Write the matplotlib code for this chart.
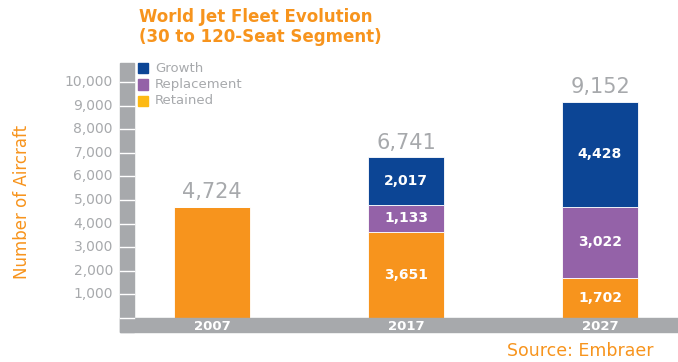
import numpy as np
import matplotlib.pyplot as plt
from matplotlib.patches import Rectangle

# Data
years = ["2007", "2017", "2027"]
retained = [4724, 3651, 1702]
replacement = [0, 1133, 3022]
growth = [0, 2017, 4428]
totals = ["4,724", "6,741", "9,152"]
yticks = [1000, 2000, 3000, 4000, 5000, 6000, 7000, 8000, 9000, 10000]

orange = "#f7941d"
purple = "#9462a8"
blue = "#0c4595"
gray = "#a7a9ac"
legend_yellow = "#fdb913"

W, H = 678, 362
fig = plt.figure(figsize=(W / 100, H / 100), dpi=100)

def fx(px):
    return px / W

def fy(py):
    return 1 - py / H

# axes area in pixels: x 134..678, y 63..318
base = 318
ax = fig.add_axes([fx(134), fy(base), fx(678) - fx(134), fy(63) - fy(base)])
px_per_unit = 194.0
xlim = (-(212 - 134) / px_per_unit, 2 + (678 - 600) / px_per_unit)
ylim = (0, (base - 63) / 23.6 * 1000)
ax.set_xlim(xlim)
ax.set_ylim(ylim)
ax.axis("off")

x = np.arange(len(years))
bw = 0.39
ax.bar(x, retained, bw, color=orange, edgecolor="white", linewidth=0.6)
ax.bar(x, replacement, bw, bottom=retained, color=purple, edgecolor="white", linewidth=0.6)
bot2 = [r + p for r, p in zip(retained, replacement)]
ax.bar(x, growth, bw, bottom=bot2, color=blue, edgecolor="white", linewidth=0.6)

# segment labels
for i in range(len(years)):
    if i == 0:
        continue
    segs = [(retained[i], 0), (replacement[i], retained[i]), (growth[i], bot2[i])]
    for val, b in segs:
        ax.text(i, b + val / 2, f"{val:,}", ha="center", va="center",
                color="white", fontsize=10, fontweight="bold")

# totals above
tops = [r + p + g for r, p, g in zip(retained, replacement, growth)]
for i, t in enumerate(totals):
    ax.text(i, tops[i] + 200, t, ha="center", va="bottom", color=gray, fontsize=15)

# gray y axis bar with white gaps
fig.patches.append(Rectangle((fx(120), fy(332)), fx(14), fy(63) - fy(332),
                             transform=fig.transFigure, color=gray, zorder=0))
# bottom bar
fig.patches.append(Rectangle((fx(120), fy(332)), fx(678 - 120), fy(base) - fy(332),
                             transform=fig.transFigure, color=gray, zorder=0))
for v in yticks:
    py = base - v / 1000 * 23.6
    fig.add_artist(plt.Line2D([fx(120), fx(134)], [fy(py), fy(py)],
                              transform=fig.transFigure, color="white", lw=1))
    fig.text(fx(113), fy(py), f"{v:,}", ha="right", va="center", color=gray, fontsize=10)
fig.add_artist(plt.Line2D([fx(120), fx(134)], [fy(base), fy(base)],
                          transform=fig.transFigure, color="white", lw=1))

# year labels inside bottom bar
for i, yr in enumerate(years):
    fig.text(fx(212 + i * px_per_unit), fy(327), yr, ha="center", va="center",
             color="white", fontsize=9.5, fontweight="bold")

# legend
legend_items = [("Growth", blue), ("Replacement", purple), ("Retained", legend_yellow)]
for k, (lab, col) in enumerate(legend_items):
    py = 63 + k * 16.5
    fig.patches.append(Rectangle((fx(138), fy(py + 10)), fx(10), fy(py) - fy(py + 10),
                                 transform=fig.transFigure, color=col))
    fig.text(fx(155), fy(py + 5), lab, ha="left", va="center", color=gray, fontsize=9.5)

# title
fig.text(fx(139), fy(8), "World Jet Fleet Evolution\n(30 to 120-Seat Segment)",
         ha="left", va="top", color=orange, fontsize=12, fontweight="bold",
         linespacing=1.15)

# y label
fig.text(fx(22), fy(202), "Number of Aircraft", rotation=90, ha="center", va="center",
         color=orange, fontsize=12)

# source
fig.text(fx(507), fy(351), "Source: Embraer", ha="left", va="center",
         color=orange, fontsize=12.5)

fig.savefig("out.png", dpi=100)
